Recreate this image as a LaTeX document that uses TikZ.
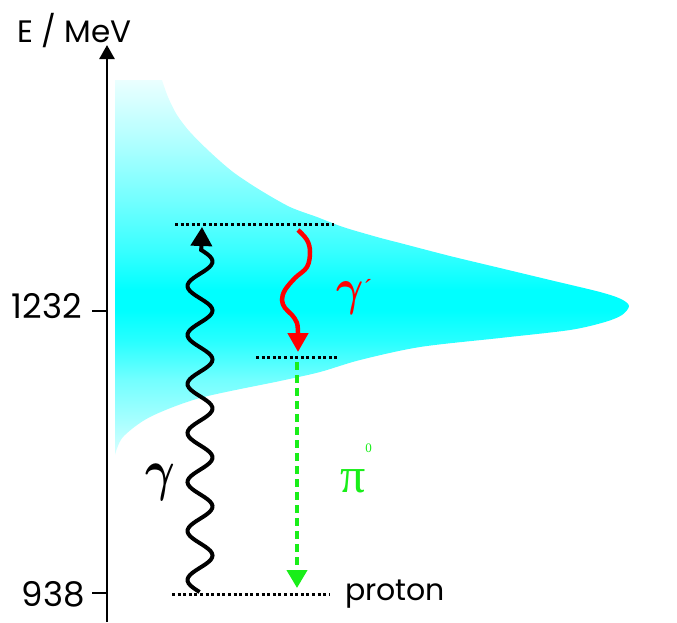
\RequirePackage{fix-cm}
\documentclass[tikz,border=0pt]{standalone}
\usepackage{fontspec}
\setmainfont{Poppins}
\newfontfamily\greekfont{Liberation Serif}
\usetikzlibrary{arrows.meta}
\definecolor{cy}{RGB}{0,255,255}
\definecolor{gline}{RGB}{25,238,25}
\definecolor{rline}{RGB}{255,0,0}
\colorlet{sA}{cy!15!white}
\colorlet{sB}{cy!35!white}
\colorlet{sC}{cy!55!white}
\colorlet{sD}{cy!85!white}
\colorlet{sE}{cy}
\colorlet{sF}{cy!78!white}
\colorlet{sG}{cy!55!white}
\colorlet{sH}{cy!30!white}
\colorlet{sI}{cy!8!white}
\pgfdeclareverticalshading{deltashade}{100bp}{color(0bp)=(sA); color(25bp)=(sA); color(29.7bp)=(sB); color(35bp)=(sC); color(40.3bp)=(sD); color(44.3bp)=(sE); color(47bp)=(sE); color(52.3bp)=(sF); color(59bp)=(sG); color(67bp)=(sH); color(75bp)=(sI); color(100bp)=(sI)}
\tikzset{
  lvl/.style={line width=3pt, dash pattern=on 3pt off 2.6pt, black},
  axlabel/.style={inner sep=0pt, font=\fontsize{30}{31}\selectfont},
  numlabel/.style={inner sep=0pt, font=\fontsize{34}{35}\selectfont},
  tickline/.style={line width=2pt, black},
}
\begin{document}
\begin{tikzpicture}[x=1pt,y=-1pt]
\useasboundingbox (0,0) rectangle (677,622);
% resonance shape
\shade[shading=deltashade] (115,80) -- plot[smooth,tension=0.5] coordinates {(162,80) (168,97) (177,115) (190,132) (210,152) (233,172) (260,190) (290,207) (317,217) (343,227) (377,237) (400,243) (450,256) (500,268) (550,280) (600,292) (621,299) (629,306) (622,315) (605,322) (570,330) (500,338) (420,347) (360,360) (320,372) (280,381) (200,398) (150,417) (123,437) (115,455)} -- cycle;
% coordinates
\coordinate (axbot) at (107,622);
\coordinate (axtop) at (107,45);
\coordinate (t1a) at (92,311);
\coordinate (t1b) at (107,311);
\coordinate (t2a) at (92,593);
\coordinate (t2b) at (107,593);
\coordinate (topL) at (175,224);
\coordinate (topR) at (334,224);
\coordinate (midL) at (256,357);
\coordinate (midR) at (338,357);
\coordinate (botL) at (172,594);
\coordinate (botR) at (330,594);
\coordinate (gtip) at (202,227);
\coordinate (rtip) at (298,352);
\coordinate (pistart) at (297,362);
\coordinate (pitip) at (297,588);
% axis
\draw[line width=2.6pt, -{Triangle[length=14pt,width=15pt]}] (axbot) -- (axtop);
\draw[tickline] (t1a) -- (t1b);
\draw[tickline] (t2a) -- (t2b);
\node[axlabel, anchor=base west, font=\fontsize{31}{32}\selectfont] (elabel) at (17,42) {E / MeV};
\node[numlabel, anchor=base east] (l1232) at (82,318) {1232};
\node[numlabel, anchor=base east] (l938) at (85,606) {938};
% levels
\draw[lvl] (topL) -- (topR);
\draw[lvl] (midL) -- (midR);
\draw[lvl] (botL) -- (botR);
\node[axlabel, anchor=base west] (proton) at (345,600) {proton};
% photon gamma
\draw[line width=4pt, black, -{Triangle[length=19pt,width=21pt]}] plot[domain=592:250,samples=160,variable=\t] ({200-12.5*cos(7.3469*(\t-580))},{\t}) -- (gtip);
% gamma prime
\draw[rline, line width=4.5pt, -{Triangle[length=19pt,width=20pt]}] plot[smooth,tension=0.6] coordinates {(298,230) (307,240) (310,252) (307,267) (295,278) (285,290) (282,300) (285,308) (292,315) (297,323) (298,333)} -- (rtip);
% pion
\draw[gline, line width=4pt, dash pattern=on 8pt off 5pt, -{Triangle[length=18pt,width=20pt]}] (pistart) -- (pitip);
% labels
\node[inner sep=0pt, font=\fontsize{57}{57}\selectfont\boldmath] (glabel) at (160,482) {\scalebox{0.8}[1]{$\gamma$}};
\node[inner sep=0pt, rline, font=\fontsize{51}{51}\selectfont\boldmath, anchor=base west] (gplabel) at (336,304) {\scalebox{0.82}[1]{$\gamma$}\raisebox{7pt}{\greekfont\fontsize{26}{26}\selectfont ´}};
\node[inner sep=0pt, gline, font=\greekfont\fontsize{50}{50}\selectfont, anchor=base west] (pilabel) at (340,492) {π\raisebox{40pt}{\fontsize{13}{13}\selectfont 0}};
\end{tikzpicture}
\end{document}
